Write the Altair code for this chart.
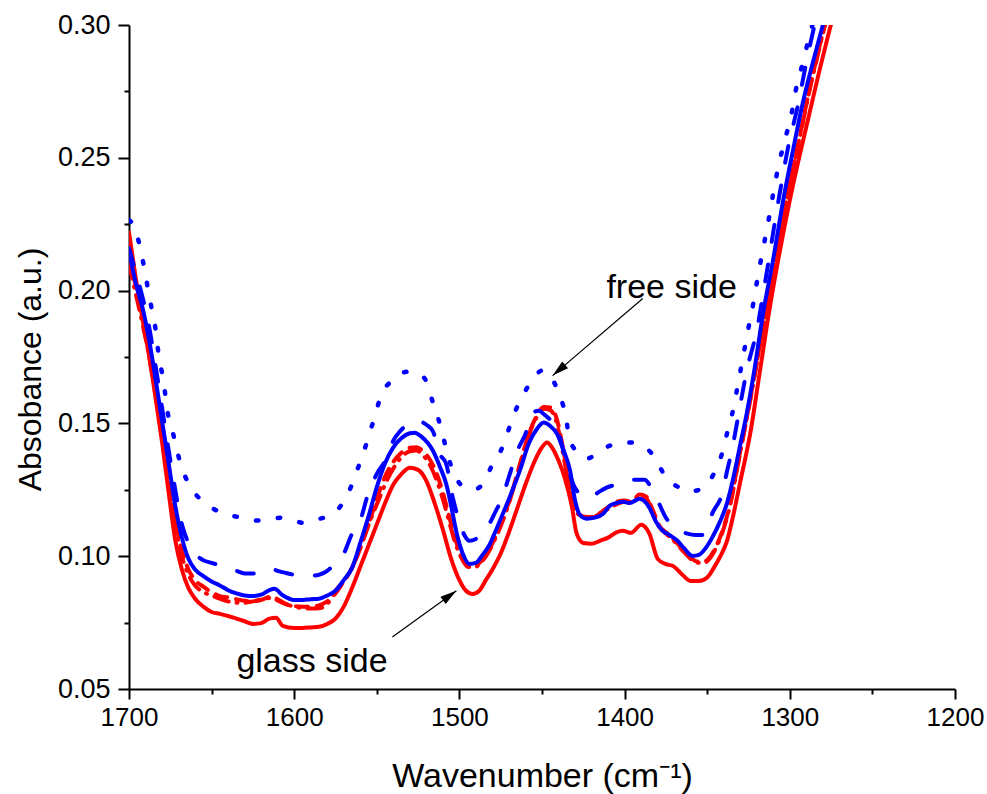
import altair as alt
import pandas as pd

FONT = "Liberation Sans"

# ---------------- data ----------------
# red solid
rs_wn = [1700, 1696, 1692, 1688, 1684, 1680, 1676, 1672, 1668, 1664, 1660, 1655, 1650, 1645, 1640, 1635,
         1630, 1625, 1620, 1615, 1611, 1607, 1600, 1595, 1590, 1585, 1580, 1575, 1570, 1565, 1560, 1555,
         1550, 1545, 1540, 1535, 1530, 1525, 1520, 1515, 1510, 1505, 1500, 1496, 1492, 1488, 1484, 1480,
         1475, 1470, 1465, 1460, 1455, 1450, 1447, 1444, 1440, 1436, 1432, 1429, 1425, 1420, 1415, 1410,
         1405, 1401, 1396, 1390, 1385, 1380, 1375, 1371, 1365, 1360, 1355, 1350, 1346, 1342, 1338, 1334,
         1330, 1324, 1318, 1312, 1306, 1300, 1294, 1288, 1282, 1276, 1270]
rs_a = [0.222, 0.205, 0.190, 0.176, 0.160, 0.143, 0.124, 0.106, 0.095, 0.088, 0.084, 0.081, 0.079, 0.0783, 0.0775, 0.0765,
        0.0755, 0.0745, 0.0748, 0.0765, 0.0768, 0.0738, 0.0730, 0.0730, 0.0732, 0.0734, 0.0745, 0.0765, 0.081, 0.088, 0.096, 0.104,
        0.112, 0.120, 0.127, 0.131, 0.1333, 0.1325, 0.1284, 0.120, 0.110, 0.099, 0.091, 0.087, 0.0858, 0.087, 0.091, 0.095,
        0.101, 0.109, 0.118, 0.127, 0.135, 0.141, 0.1428, 0.141, 0.136, 0.129, 0.119, 0.1085, 0.105, 0.1047, 0.1058, 0.107,
        0.109, 0.1096, 0.1088, 0.1118, 0.1085, 0.099, 0.097, 0.0964, 0.093, 0.0907, 0.0907, 0.092, 0.0956, 0.100, 0.1058, 0.116,
        0.128, 0.146, 0.170, 0.194, 0.215, 0.234, 0.251, 0.267, 0.283, 0.298, 0.312]

# red dashed
rd_wn = [1700, 1696, 1692, 1688, 1684, 1680, 1676, 1672, 1668, 1664, 1660, 1655, 1650, 1645, 1640, 1635,
         1630, 1625, 1620, 1614, 1610, 1605, 1600, 1595, 1590, 1585, 1580, 1575, 1570, 1565, 1560, 1555,
         1550, 1545, 1540, 1535, 1530, 1526, 1522, 1518, 1514, 1510, 1506, 1502, 1498, 1495, 1491, 1487,
         1482, 1478, 1473, 1468, 1463, 1458, 1453, 1449, 1445, 1441, 1438, 1435, 1432, 1429, 1425, 1420,
         1415, 1410, 1405, 1400, 1396, 1391, 1387, 1383, 1379, 1374, 1369, 1364, 1360, 1356, 1352, 1348,
         1344, 1340, 1336, 1332, 1328, 1324, 1318, 1312, 1306, 1300, 1294, 1288, 1282, 1276, 1270]
rd_a = [0.213, 0.202, 0.191, 0.179, 0.164, 0.148, 0.131, 0.114, 0.102, 0.095, 0.091, 0.0885, 0.0865, 0.085, 0.0845, 0.0838,
        0.0832, 0.083, 0.0835, 0.0848, 0.0838, 0.082, 0.0812, 0.081, 0.081, 0.0815, 0.083, 0.086, 0.0905, 0.0955, 0.103, 0.112,
        0.1215, 0.130, 0.1355, 0.139, 0.1408, 0.141, 0.1395, 0.1365, 0.1315, 0.124, 0.1145, 0.1055, 0.0995, 0.097, 0.0965, 0.098,
        0.1025, 0.1075, 0.115, 0.1245, 0.1355, 0.146, 0.153, 0.1562, 0.156, 0.1515, 0.143, 0.1325, 0.1215, 0.1165, 0.115, 0.1148,
        0.1162, 0.1185, 0.1205, 0.121, 0.1205, 0.1232, 0.1225, 0.1175, 0.1115, 0.1085, 0.1055, 0.102, 0.0995, 0.098, 0.098, 0.100,
        0.1045, 0.111, 0.120, 0.133, 0.146, 0.159, 0.180, 0.200, 0.221, 0.240, 0.258, 0.276, 0.292, 0.307, 0.321]

# red dash-dot
rdd_wn = [1700, 1696, 1692, 1688, 1684, 1680, 1676, 1672, 1668, 1664, 1660, 1655, 1650, 1645, 1640, 1635,
          1630, 1625, 1619, 1614, 1609, 1605, 1600, 1596, 1590, 1584, 1580, 1575, 1570, 1567, 1564, 1560,
          1554, 1549, 1544, 1539, 1534, 1530, 1526, 1522, 1518, 1514, 1510, 1506, 1502, 1498, 1495, 1491,
          1487, 1482, 1478, 1473, 1468, 1463, 1458, 1453, 1449, 1445, 1441, 1438, 1435, 1432, 1429, 1425,
          1420, 1415, 1410, 1405, 1400, 1396, 1391, 1387, 1383, 1379, 1374, 1369, 1364, 1360, 1356, 1352,
          1348, 1344, 1340, 1336, 1332, 1328, 1324, 1318, 1312, 1306, 1300, 1294, 1288, 1282, 1276, 1270]
rdd_a = [0.210, 0.199, 0.188, 0.176, 0.161, 0.145, 0.128, 0.112, 0.100, 0.093, 0.089, 0.0865, 0.0852, 0.084, 0.083, 0.0825,
         0.0825, 0.083, 0.0838, 0.0843, 0.083, 0.082, 0.081, 0.0805, 0.0803, 0.0805, 0.082, 0.087, 0.0905, 0.0934, 0.097, 0.1032,
         0.1134, 0.121, 0.1284, 0.134, 0.138, 0.1395, 0.1398, 0.138, 0.1345, 0.129, 0.1215, 0.1125, 0.104, 0.0985, 0.096, 0.0958,
         0.0975, 0.102, 0.107, 0.1145, 0.124, 0.135, 0.1455, 0.1525, 0.1555, 0.155, 0.150, 0.141, 0.131, 0.121, 0.1165, 0.1148,
         0.1145, 0.116, 0.1178, 0.1195, 0.1205, 0.120, 0.122, 0.1218, 0.1165, 0.111, 0.108, 0.105, 0.1015, 0.099, 0.0975, 0.0975,
         0.0995, 0.104, 0.1105, 0.1195, 0.1325, 0.1455, 0.1585, 0.1795, 0.1995, 0.2205, 0.2395, 0.2575, 0.2755, 0.2915, 0.3065, 0.320]

# blue solid
bs_wn = [1700, 1696, 1692, 1688, 1684, 1680, 1676, 1672, 1668, 1664, 1660, 1655, 1650, 1645, 1640, 1635,
         1630, 1625, 1620, 1615, 1612, 1607, 1600, 1595, 1590, 1585, 1580, 1575, 1570, 1565, 1560, 1555,
         1550, 1545, 1540, 1535, 1530, 1527, 1523, 1519, 1516, 1512, 1508, 1505, 1502, 1498, 1494, 1490,
         1486, 1482, 1478, 1473, 1468, 1463, 1458, 1453, 1449, 1445, 1441, 1437, 1433, 1430, 1427, 1423,
         1418, 1413, 1409, 1405, 1401, 1397, 1391, 1385, 1381, 1377, 1373, 1368, 1364, 1359, 1355, 1351,
         1347, 1342, 1338, 1334, 1330, 1326, 1322, 1316, 1310, 1304, 1298, 1292, 1286, 1280, 1274]
bs_a = [0.215, 0.203, 0.194, 0.182, 0.167, 0.151, 0.135, 0.119, 0.107, 0.099, 0.095, 0.0925, 0.0905, 0.089, 0.0872, 0.086,
        0.0852, 0.085, 0.0855, 0.0872, 0.0877, 0.0853, 0.0835, 0.0835, 0.0838, 0.084, 0.0852, 0.087, 0.091, 0.0956, 0.105, 0.115,
        0.126, 0.135, 0.141, 0.1445, 0.1463, 0.1465, 0.145, 0.1425, 0.1397, 0.134, 0.1273, 0.119, 0.1096, 0.101, 0.0971, 0.0975,
        0.1005, 0.104, 0.1096, 0.117, 0.1247, 0.133, 0.1424, 0.148, 0.1503, 0.149, 0.1462, 0.140, 0.1322, 0.121, 0.1155, 0.1141,
        0.1145, 0.116, 0.119, 0.120, 0.1205, 0.120, 0.1216, 0.1183, 0.113, 0.1096, 0.108, 0.1058, 0.103, 0.1001, 0.1005, 0.103,
        0.107, 0.1134, 0.120, 0.130, 0.142, 0.154, 0.168, 0.192, 0.212, 0.234, 0.253, 0.271, 0.286, 0.300, 0.313]

# blue dashed
bd_wn = [1700, 1696, 1692, 1688, 1684, 1680, 1676, 1672, 1668, 1664, 1660, 1655, 1650, 1645, 1640, 1635,
         1630, 1625, 1620, 1615, 1610, 1605, 1600, 1595, 1590, 1585, 1580, 1575, 1570, 1565, 1560, 1556,
         1550, 1544, 1540, 1536, 1530, 1526, 1520, 1516, 1512, 1508, 1504, 1501, 1497, 1494, 1490, 1486,
         1482, 1478, 1474, 1470, 1464, 1460, 1456, 1452, 1448, 1444, 1441, 1439, 1435, 1431, 1426, 1421,
         1416, 1411, 1405, 1399, 1394, 1388, 1384, 1380, 1375, 1370, 1366, 1362, 1357, 1353, 1350, 1347,
         1341, 1338, 1335, 1332, 1326, 1320, 1315, 1306, 1301, 1295, 1290, 1285, 1280]
bd_a = [0.216, 0.207, 0.198, 0.187, 0.172, 0.156, 0.140, 0.125, 0.112, 0.105, 0.101, 0.0985, 0.0975, 0.0965, 0.0955, 0.0945,
        0.0935, 0.0935, 0.0945, 0.0955, 0.0945, 0.0937, 0.093, 0.0926, 0.0926, 0.093, 0.0945, 0.0975, 0.101, 0.1085, 0.1134, 0.122,
        0.131, 0.137, 0.1435, 0.147, 0.150, 0.151, 0.1495, 0.147, 0.1386, 0.1348, 0.122, 0.115, 0.108, 0.1058, 0.1065, 0.1085,
        0.112, 0.117, 0.122, 0.130, 0.141, 0.146, 0.1537, 0.1548, 0.153, 0.151, 0.150, 0.1446, 0.1348, 0.127, 0.123, 0.122,
        0.124, 0.1258, 0.127, 0.1284, 0.1288, 0.1288, 0.126, 0.121, 0.1145, 0.111, 0.1095, 0.1085, 0.108, 0.108, 0.111, 0.116,
        0.1235, 0.132, 0.140, 0.150, 0.170, 0.185, 0.203, 0.237, 0.254, 0.270, 0.286, 0.300, 0.313]

# blue dotted
bo_wn = [1700, 1698, 1693, 1690, 1687, 1684, 1682, 1679, 1677, 1673, 1669, 1662, 1656, 1650, 1643, 1635,
         1628, 1622, 1615, 1607, 1600, 1595, 1590, 1585, 1579, 1573, 1568, 1562, 1557, 1552, 1547, 1541,
         1536, 1530, 1526, 1521, 1516, 1511, 1507, 1501, 1495, 1490, 1485, 1481, 1473, 1468, 1461, 1455,
         1450, 1445, 1441, 1436, 1433, 1428, 1423, 1416, 1409, 1402, 1396, 1390, 1384, 1379, 1375, 1368,
         1361, 1355, 1350, 1346, 1342, 1338, 1334, 1331, 1328, 1325, 1322, 1319, 1316, 1313, 1310, 1307,
         1303, 1299, 1296, 1292, 1288, 1284]
bo_a = [0.2265, 0.2253, 0.2155, 0.2057, 0.1955, 0.1857, 0.1756, 0.1654, 0.1556, 0.1454, 0.1352, 0.1254, 0.121, 0.1183, 0.116, 0.1149,
        0.1138, 0.1134, 0.114, 0.1145, 0.1135, 0.1126, 0.113, 0.114, 0.1152, 0.118, 0.1228, 0.1322, 0.141, 0.151, 0.1612, 0.166,
        0.1688, 0.1695, 0.169, 0.1669, 0.1578, 0.148, 0.1379, 0.1284, 0.1255, 0.1254, 0.128, 0.1333, 0.1424, 0.1518, 0.1612, 0.167,
        0.1699, 0.168, 0.1631, 0.1537, 0.1435, 0.139, 0.1367, 0.139, 0.1416, 0.1425, 0.1428, 0.1415, 0.139, 0.134, 0.1296, 0.1262,
        0.1243, 0.125, 0.1273, 0.131, 0.1367, 0.1462, 0.156, 0.1661, 0.176, 0.186, 0.1955, 0.2065, 0.2163, 0.226, 0.2366, 0.2465,
        0.2566, 0.2664, 0.2766, 0.286, 0.2962, 0.305]

x_major = [1700, 1600, 1500, 1400, 1300, 1200]
x_minor = [1650, 1550, 1450, 1350, 1250]
y_major = [0.05, 0.10, 0.15, 0.20, 0.25, 0.30]
y_minor = [0.075, 0.125, 0.175, 0.225, 0.275]

notes_text = ["free side", "glass side"]
notes_wn = [1411, 1635]
notes_a = [0.1972, 0.0565]

arrow_tail_wn = [1389, 1540.6]
arrow_tail_a = [0.197, 0.0696]
arrow_tip_wn = [1443.6, 1501.8]
arrow_tip_a = [0.168, 0.087]
arrow_angle = [229.5, 54.1]

# ---------------- chart ----------------
x_scale = alt.Scale(domain=[1200, 1700], reverse=True, nice=False, zero=False)
y_scale = alt.Scale(domain=[0.05, 0.30], nice=False, zero=False)

x_axis = alt.Axis(values=x_major, format="d", orient="bottom", grid=False,
                  labelFont=FONT, labelFontSize=26, labelColor="black", labelPadding=5,
                  labelFlush=False, labelOverlap=False,
                  tickSize=10, tickWidth=2, tickColor="black",
                  domainColor="black", domainWidth=2,
                  title="Wavenumber (cm⁻¹)", titleFont=FONT, titleFontSize=34,
                  titleFontWeight="normal", titleColor="black",
                  titleY=97, titleBaseline="alphabetic")
y_axis = alt.Axis(values=y_major, format=".2f", orient="left", grid=False,
                  labelFont=FONT, labelFontSize=27, labelColor="black", labelPadding=8,
                  labelFlush=False, labelOverlap=False,
                  tickSize=11, tickWidth=2, tickColor="black",
                  domainColor="black", domainWidth=2,
                  title="Absobance (a.u.)", titleFont=FONT, titleFontSize=32,
                  titleFontWeight="normal", titleColor="black",
                  titleX=-99, titleY=344, titleBaseline="middle")

series = [
    (rs_wn, rs_a, "#ff0000", None, 4),
    (rd_wn, rd_a, "#ff0000", [12, 9], 4),
    (rdd_wn, rdd_a, "#ff0000", [15, 8, 1, 8], 4),
    (bd_wn, bd_a, "#0000ff", [17, 23], 4),
    (bs_wn, bs_a, "#0000ff", None, 4),
    (bo_wn, bo_a, "#0000ff", [2.5, 19.5], 4.5),
]

layers = []
for i, (wn, a, col, dash, sw) in enumerate(series):
    df = pd.DataFrame({"wn": wn, "a": a})
    kw = dict(color=col, strokeWidth=sw, clip=True, interpolate="monotone", strokeCap="round")
    if dash is not None:
        kw["strokeDash"] = dash
    if i == 0:
        X = alt.X("wn:Q", scale=x_scale, axis=x_axis)
        Y = alt.Y("a:Q", scale=y_scale, axis=y_axis)
    else:
        X = alt.X("wn:Q", scale=x_scale, axis=None)
        Y = alt.Y("a:Q", scale=y_scale, axis=None)
    layers.append(alt.Chart(df).mark_line(**kw).encode(x=X, y=Y))

arrows = pd.DataFrame({"x1": arrow_tail_wn, "y1": arrow_tail_a,
                       "x2": arrow_tip_wn, "y2": arrow_tip_a, "ang": arrow_angle})
arrow_lines = alt.Chart(arrows).mark_rule(color="black", strokeWidth=1.2).encode(
    x=alt.X("x1:Q", scale=x_scale, axis=None), x2="x2:Q",
    y=alt.Y("y1:Q", scale=y_scale, axis=None), y2="y2:Q")
arrow_heads = alt.Chart(arrows).mark_point(
    shape="M0,0 L-0.6,2.2 L0.6,2.2 Z", filled=True, color="black", opacity=1, size=225
).encode(x=alt.X("x2:Q", scale=x_scale, axis=None),
         y=alt.Y("y2:Q", scale=y_scale, axis=None),
         angle=alt.Angle("ang:Q", scale=None))

notes = pd.DataFrame({"t": notes_text, "wn": notes_wn, "a": notes_a})
note_marks = alt.Chart(notes).mark_text(
    font=FONT, fontSize=34, color="black", align="left", baseline="alphabetic"
).encode(x=alt.X("wn:Q", scale=x_scale, axis=None),
         y=alt.Y("a:Q", scale=y_scale, axis=None), text="t:N")

minor_df = pd.DataFrame({"wn": bs_wn, "a": bs_a})
minor = alt.Chart(minor_df).mark_point(opacity=0).encode(
    x=alt.X("wn:Q", scale=x_scale,
            axis=alt.Axis(values=x_minor, orient="bottom", labels=False, domain=False, grid=False,
                          tickSize=5, tickWidth=2, tickColor="black", title=None)),
    y=alt.Y("a:Q", scale=y_scale,
            axis=alt.Axis(values=y_minor, orient="left", labels=False, domain=False, grid=False,
                          tickSize=5, tickWidth=2, tickColor="black", title=None)),
)

chart = alt.layer(*layers, arrow_lines, arrow_heads, note_marks, minor).resolve_axis(
    x="independent", y="independent"
).properties(
    width=826, height=664,
    padding={"left": 129, "top": 25, "right": 32, "bottom": 105},
    autosize=alt.AutoSizeParams(type="none"),
    background="white",
).configure_view(stroke=None)

chart.save("out.html", embed_options={"renderer": "svg", "actions": False})
